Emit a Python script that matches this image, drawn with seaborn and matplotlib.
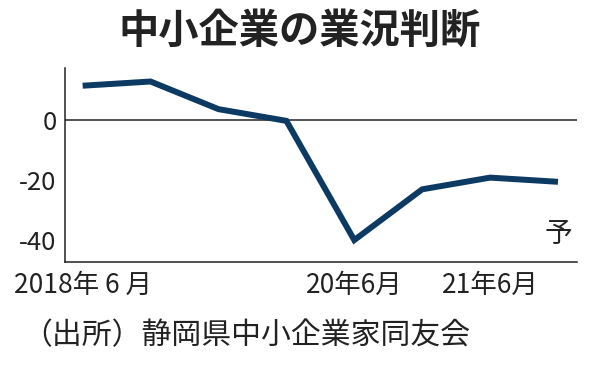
import numpy as np
import pandas as pd
import matplotlib
matplotlib.use('Agg')
import matplotlib.pyplot as plt
import seaborn as sns

sns.set_style('white')
plt.rcParams['font.family'] = ['Noto Sans CJK JP', 'DejaVu Sans']

# 業況判断DI（半年ごと、最後は予測）
periods = ['2018年 6 月', '18年12月', '19年6月', '19年12月', '20年6月', '20年12月', '21年6月', '21年12月']
di_values = [11.4, 12.8, 3.6, -0.3, -40.0, -23.1, -19.2, -20.6]
tick_labels = ['2018年 6 月', '', '', '', '20年6月', '', '21年6月', '']
y_ticks = [0, -20, -40]

df = pd.DataFrame({'idx': range(len(periods)), 'di': di_values})

fig = plt.figure(figsize=(5.96, 3.68), dpi=100)
ax = fig.add_axes([65 / 596, 1 - 262 / 368, (577 - 65) / 596, (262 - 68) / 368])

sns.lineplot(data=df, x='idx', y='di', ax=ax, color='#0c3a63', linewidth=4.3,
             solid_capstyle='butt', solid_joinstyle='miter')

ax.axhline(0, color='#222222', linewidth=1.1, zorder=1)

ax.set_xlim(-0.26, 7.28)
ax.set_ylim(-47.3, 17.3)
ax.set_xticks(range(len(periods)))
ax.set_xticklabels(tick_labels, fontsize=19, color='#222222')
ax.set_yticks(y_ticks)
ax.set_yticklabels([str(v) for v in y_ticks], fontsize=18.5, color='#222222')
ax.tick_params(axis='both', direction='in', length=7, width=1, color='#222222')
ax.tick_params(axis='x', pad=7)
ax.tick_params(axis='y', pad=6)
ax.set_xlabel('')
ax.set_ylabel('')

for s in ['top', 'right']:
    ax.spines[s].set_visible(False)
for s in ['left', 'bottom']:
    ax.spines[s].set_color('#222222')
    ax.spines[s].set_linewidth(1.1)

ax.text(7, -38, '予', fontsize=20, ha='center', va='center', color='#222222')

fig.text(300 / 596, 1 - 31 / 368, '中小企業の業況判断', fontsize=29, fontweight='bold',
         ha='center', va='center', color='#222222')
fig.text(22 / 596, 1 - 336 / 368, '（出所）静岡県中小企業家同友会', fontsize=21.5,
         ha='left', va='center', color='#222222')

fig.savefig('out.png', dpi=100)
